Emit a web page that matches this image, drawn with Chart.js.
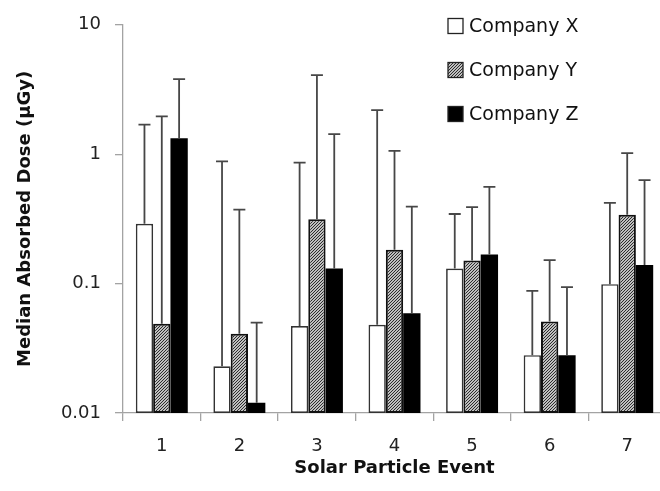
<!DOCTYPE html>
<html>
<head>
<meta charset="utf-8">
<script src="https://cdn.jsdelivr.net/npm/chart.js@4.4.1/dist/chart.umd.min.js"></script>
<style>
  html, body { margin: 0; padding: 0; background: #fff; overflow: hidden; }
  #wrap { width: 666px; height: 491px; }
</style>
</head>
<body>
<div id="wrap"><canvas id="chart" width="666" height="491"></canvas></div>
<script>
// Median absorbed dose per solar particle event, log axis, upper error bars only
const events = ['1', '2', '3', '4', '5', '6', '7'];
const companies = ['Company X', 'Company Y', 'Company Z'];
const doseX = [0.29, 0.023, 0.047, 0.048, 0.131, 0.028, 0.099];
const doseY = [0.049, 0.041, 0.314, 0.183, 0.151, 0.051, 0.341];
const doseZ = [1.33, 0.012, 0.131, 0.059, 0.168, 0.028, 0.139];
const upperX = [1.69, 0.88, 0.86, 2.19, 0.345, 0.088, 0.42];
const upperY = [1.96, 0.373, 4.08, 1.06, 0.39, 0.152, 1.02];
const upperZ = [3.81, 0.05, 1.43, 0.393, 0.56, 0.094, 0.63];
const yTicks = [0.01, 0.1, 1, 10];

const FONT = 'DejaVu Sans';
const AXIS_GREY = '#a3a3a3';

// diagonal hatch for Company Y
function makeHatch() {
  const n = 3;
  const p = document.createElement('canvas');
  p.width = n; p.height = n;
  const g = p.getContext('2d');
  g.fillStyle = '#fff'; g.fillRect(0, 0, n, n);
  g.strokeStyle = '#222'; g.lineWidth = 1.1;
  g.beginPath();
  g.moveTo(-1, n + 1); g.lineTo(n + 1, -1);
  g.moveTo(-1, 1); g.lineTo(1, -1);
  g.moveTo(n - 1, n + 1); g.lineTo(n + 1, n - 1);
  g.stroke();
  return document.createElement('canvas').getContext('2d').createPattern(p, 'repeat');
}
const hatch = makeHatch();

// error bars (upper only) through the y scale
const errorBars = {
  id: 'errorBars',
  afterDatasetsDraw(chart) {
    const { ctx } = chart;
    const y = chart.scales.y;
    ctx.save();
    ctx.strokeStyle = '#474747';
    ctx.lineWidth = 1.8;
    chart.data.datasets.forEach((ds, i) => {
      chart.getDatasetMeta(i).data.forEach((bar, j) => {
        const top = y.getPixelForValue(ds.upper[j]);
        ctx.beginPath();
        ctx.moveTo(bar.x, bar.y);
        ctx.lineTo(bar.x, top);
        ctx.moveTo(bar.x - 6, top);
        ctx.lineTo(bar.x + 6, top);
        ctx.stroke();
      });
    });
    ctx.restore();
  }
};

// vertical legend in the top right of the plot
const boxLegend = {
  id: 'boxLegend',
  afterDraw(chart) {
    const { ctx } = chart;
    const x0 = 448, y0 = 26, step = 44, size = 15;
    ctx.save();
    ctx.font = '19px "' + FONT + '"';
    ctx.textBaseline = 'middle';
    chart.data.datasets.forEach((ds, i) => {
      const cy = y0 + i * step;
      ctx.fillStyle = ds.backgroundColor;
      ctx.fillRect(x0, cy - size / 2, size, size);
      ctx.strokeStyle = '#222';
      ctx.lineWidth = 1.3;
      ctx.strokeRect(x0, cy - size / 2, size, size);
      ctx.fillStyle = '#111';
      ctx.fillText(ds.label, x0 + 21, cy + 1);
    });
    ctx.restore();
  }
};

new Chart(document.getElementById('chart'), {
  type: 'bar',
  data: {
    labels: events,
    datasets: [
      { label: companies[0], data: doseX, upper: upperX, backgroundColor: '#fff', borderColor: '#333', borderWidth: 1.7, borderSkipped: false },
      { label: companies[1], data: doseY, upper: upperY, backgroundColor: hatch, borderColor: '#111', borderWidth: 2, borderSkipped: false },
      { label: companies[2], data: doseZ, upper: upperZ, backgroundColor: '#000', borderColor: '#000', borderWidth: 0 }
    ]
  },
  options: {
    responsive: false,
    devicePixelRatio: 1,
    animation: false,
    barPercentage: 1,
    categoryPercentage: 0.67,
    layout: { padding: { top: 24, left: 0, right: 0, bottom: 0 } },
    plugins: { legend: { display: false }, tooltip: { enabled: false } },
    scales: {
      x: {
        grid: { drawOnChartArea: false, color: AXIS_GREY, tickLength: 8, offset: true, lineWidth: 1.3 },
        border: { color: AXIS_GREY, width: 1.3 },
        ticks: { color: '#222', font: { family: FONT, size: 18 }, padding: 15 },
        title: { display: true, text: 'Solar Particle Event', color: '#111', font: { family: FONT, size: 18, weight: 'bold' }, padding: { top: 0, bottom: 12 } },
        afterFit(s) { s.height = 78; }
      },
      y: {
        type: 'logarithmic',
        min: 0.01,
        max: 10,
        afterBuildTicks(s) { s.ticks = yTicks.map(v => ({ value: v, major: true })); },
        grid: { drawOnChartArea: false, color: AXIS_GREY, tickLength: 8, lineWidth: 1.3 },
        border: { color: AXIS_GREY, width: 1.3 },
        ticks: { color: '#222', font: { family: FONT, size: 18 }, padding: 14, callback: v => String(v) },
        title: { display: true, text: 'Median Absorbed Dose (µGy)', color: '#111', font: { family: FONT, size: 18, weight: 'bold' }, padding: { top: 15, bottom: 0 } },
        afterFit(s) { s.width = 123; }
      }
    }
  },
  plugins: [errorBars, boxLegend]
});
</script>
</body>
</html>
